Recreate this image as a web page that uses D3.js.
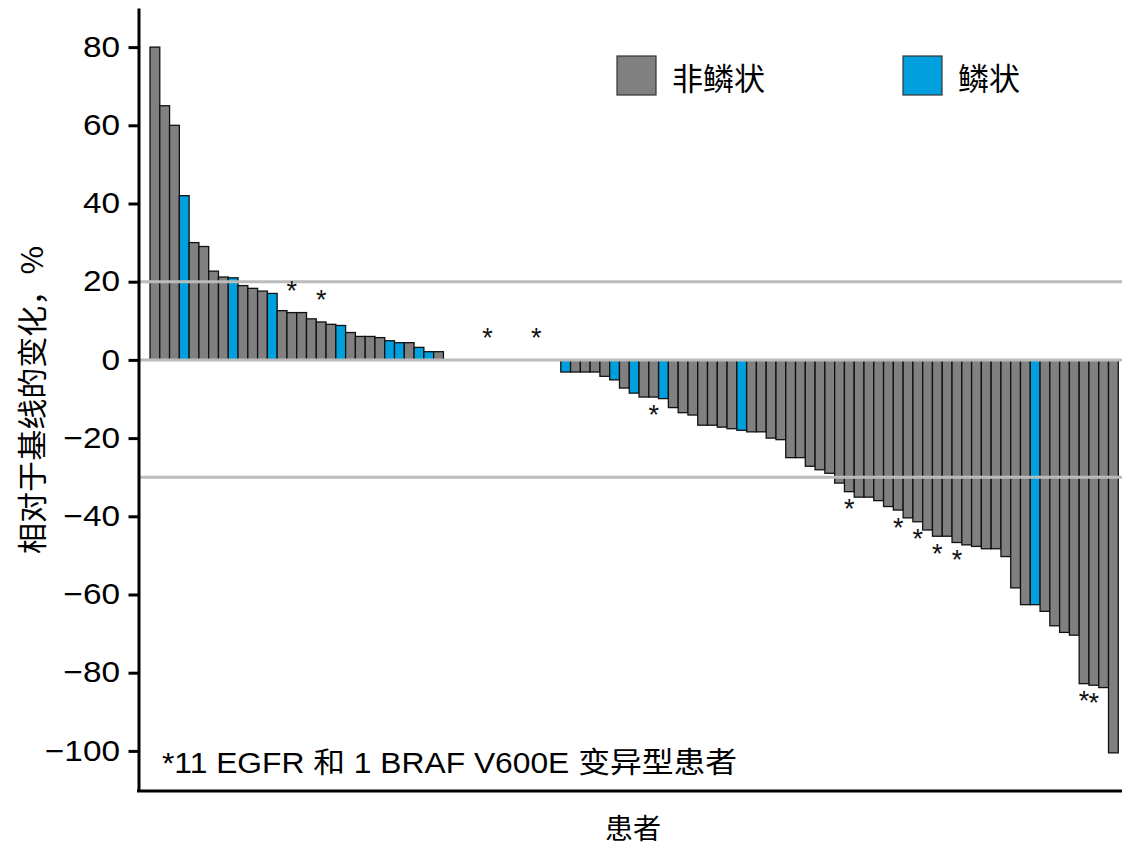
<!DOCTYPE html>
<html>
<head>
<meta charset="utf-8">
<script src="https://cdn.jsdelivr.net/npm/d3@7/dist/d3.min.js"></script>
<style>
  html, body { margin: 0; padding: 0; background: #fff; }
  svg { display: block; }
</style>
</head>
<body>
<svg id="chart" width="1122" height="848"></svg>
<script>
// ---- data ----
const changes = [
  80, 65, 60, 42, 30, 29, 22.7, 21.2, 21, 19,
  18.3, 17.6, 17, 12.6, 12.1, 12.1, 10.5, 9.7, 9.1, 8.8,
  7, 6, 6, 5.7, 4.9, 4.4, 4.4, 3.2, 2.1, 2.1,
  0, 0, 0, 0, 0, 0, 0, 0, 0, 0, 0, 0,
  -3.1, -3.1, -3.1, -3.1, -4.2, -5.1, -7.2, -8.5, -9.5, -9.5,
  -9.9, -12.2, -13.5, -14.1, -16.7, -16.7, -17.2, -17.6, -18.0, -18.4,
  -18.4, -20.0, -20.4, -25, -25, -27.2, -28.1, -29, -31.5, -33.7,
  -35.1, -35.1, -36, -37.5, -38.4, -40.4, -41.4, -43.5, -45.1, -45.1,
  -46.7, -47.3, -47.7, -48.3, -48.3, -50.3, -58.3, -62.6, -62.6, -64.3,
  -68, -69.7, -70.4, -82.8, -83.2, -83.8, -100.5
];
// N = 非鳞状, S = 鳞状
const histology = [
  "N","N","N","S","N","N","N","N","S","N",
  "N","N","S","N","N","N","N","N","N","S",
  "N","N","N","N","S","S","N","S","S","N",
  "N","N","N","N","N","N","N","N","N","N","N","N",
  "S","N","N","N","N","S","N","S","N","N",
  "S","N","N","N","N","N","N","N","S","N",
  "N","N","N","N","N","N","N","N","N","N",
  "N","N","N","N","N","N","N","N","N","N",
  "N","N","N","N","N","N","N","N","S","N",
  "N","N","N","N","N","N","N"
];
const mutated = [14, 17, 34, 39, 51, 71, 76, 78, 80, 82, 95, 96]; // patients marked *
const categories = ["非鳞状", "鳞状"];
const categoryCodes = ["N", "S"];
const colors = ["#808080", "#00A0DF"];
const yTicks = [-100, -80, -60, -40, -20, 0, 20, 40, 60, 80];
const refLines = [20, 0, -30];
const footnote = "*11 EGFR 和 1 BRAF V600E 变异型患者";
const xTitle = "患者";
const yTitle = "相对于基线的变化，%";

// ---- chart ----
const svg = d3.select("#chart");
const latin = "'Liberation Sans', Arial, 'Noto Sans CJK SC', sans-serif";
const cjk = "'Noto Sans CJK SC', 'Liberation Sans', sans-serif";

const patients = d3.range(changes.length);
const x = d3.scaleBand().domain(patients).range([150, 1118.3]).padding(0);
const y = d3.scaleLinear().domain([-110, 90]).range([790, 8]);
const color = d3.scaleOrdinal().domain(categoryCodes).range(colors);

// bars
svg.append("g").selectAll("rect")
  .data(patients.filter(i => changes[i] !== 0))
  .join("rect")
  .attr("x", i => x(i))
  .attr("width", x.bandwidth())
  .attr("y", i => y(Math.max(0, changes[i])))
  .attr("height", i => Math.abs(y(changes[i]) - y(0)))
  .attr("fill", i => color(histology[i]))
  .attr("stroke", "#111")
  .attr("stroke-width", 1.3);

// reference lines
svg.append("g").selectAll("line")
  .data(refLines)
  .join("line")
  .attr("x1", 140).attr("x2", 1122)
  .attr("y1", d => y(d)).attr("y2", d => y(d))
  .attr("stroke", "#BBBBBB")
  .attr("stroke-width", 3);

// asterisks
const starSize = 27, starLift = 0.575 * starSize;
svg.append("g").selectAll("text")
  .data(mutated)
  .join("text")
  .attr("x", i => x(i) + x.bandwidth() / 2)
  .attr("y", i => changes[i] >= 0 ? y(changes[i]) - 28 + starLift : y(changes[i]) + 11 + starLift)
  .attr("text-anchor", "middle")
  .attr("font-family", latin)
  .attr("font-size", starSize)
  .attr("fill", "#111")
  .text("*");

// y axis
const sx = 1.15;
const yAxis = d3.axisLeft(y)
  .tickValues(yTicks)
  .tickSize(10)
  .tickSizeOuter(0)
  .tickFormat(d => d < 0 ? "\u2212" + Math.abs(d) : String(d));
const gy = svg.append("g").attr("transform", "translate(138.5,0)").call(yAxis);
gy.select(".domain").attr("stroke", "#000").attr("stroke-width", 3);
gy.selectAll(".tick line").attr("stroke", "#000").attr("stroke-width", 3);
gy.selectAll(".tick text")
  .attr("x", -18.5 / sx)
  .attr("transform", `scale(${sx},1)`)
  .attr("font-family", latin)
  .attr("font-size", 29)
  .attr("fill", "#000");

// x axis line
svg.append("line")
  .attr("x1", 137).attr("x2", 1122)
  .attr("y1", 791).attr("y2", 791)
  .attr("stroke", "#000").attr("stroke-width", 3);

// axis titles
svg.append("text")
  .attr("transform", "translate(30,400) rotate(-90)")
  .attr("text-anchor", "middle")
  .attr("dominant-baseline", "central")
  .attr("font-family", cjk)
  .attr("font-size", 30)
  .attr("textLength", 308)
  .attr("lengthAdjust", "spacingAndGlyphs")
  .attr("fill", "#000")
  .text(yTitle);

svg.append("text")
  .attr("x", 633).attr("y", 827)
  .attr("text-anchor", "middle")
  .attr("dominant-baseline", "central")
  .attr("font-family", cjk)
  .attr("font-size", 28)
  .attr("fill", "#000")
  .text(xTitle);

// footnote
svg.append("text")
  .attr("x", 162).attr("y", 773)
  .attr("font-family", latin)
  .attr("font-size", 29)
  .attr("textLength", 575)
  .attr("lengthAdjust", "spacingAndGlyphs")
  .attr("fill", "#000")
  .text(footnote);

// legend
const legendX = [617, 903];
const lg = svg.append("g").selectAll("g")
  .data(categories)
  .join("g")
  .attr("transform", (d, i) => `translate(${legendX[i]},56)`);
lg.append("rect")
  .attr("width", 39).attr("height", 39)
  .attr("fill", (d, i) => colors[i])
  .attr("stroke", "#333").attr("stroke-width", 1.2);
lg.append("text")
  .attr("x", 55).attr("y", 20)
  .attr("dominant-baseline", "central")
  .attr("font-family", cjk)
  .attr("font-size", 31)
  .attr("fill", "#000")
  .text(d => d);
</script>
</body>
</html>
